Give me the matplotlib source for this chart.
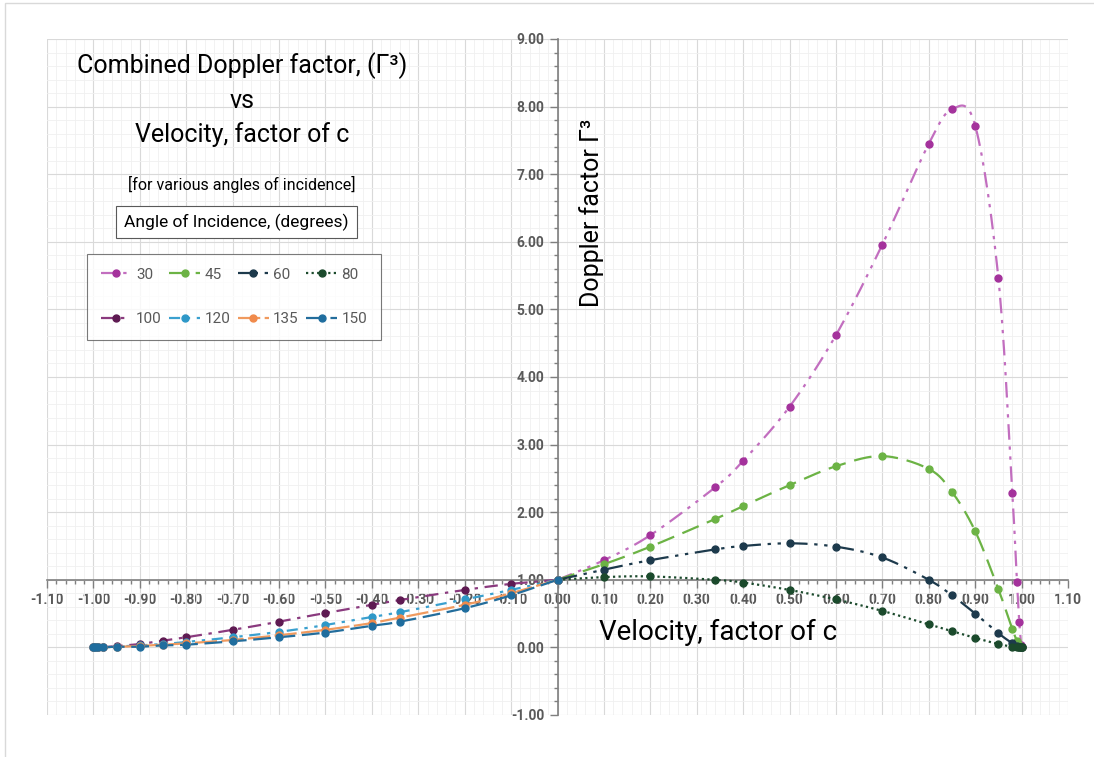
import numpy as np
import matplotlib
matplotlib.use("Agg")
import matplotlib.pyplot as plt
from matplotlib.patches import Rectangle
from matplotlib.ticker import MultipleLocator, FormatStrFormatter

plt.rcParams['font.family'] = ['Roboto', 'DejaVu Sans']

# velocity points (factor of c); approaching angles plotted at +v, receding at -v
vel = [0, 0.1, 0.2, 0.34, 0.4, 0.5, 0.6, 0.7, 0.8, 0.85, 0.9, 0.95, 0.98, 0.99, 0.995, 0.999, 1.0]
vel_neg = [-v for v in vel]

g30 = [1.00, 1.29, 1.66, 2.37, 2.76, 3.56, 4.62, 5.96, 7.45, 7.96, 7.72, 5.46, 2.28, 0.97, 0.38, 0.04, 0.00]
g45 = [1.00, 1.23, 1.49, 1.90, 2.09, 2.40, 2.68, 2.83, 2.64, 2.30, 1.72, 0.86, 0.27, 0.10, 0.04, 0.00, 0.00]
g60 = [1.00, 1.15, 1.29, 1.45, 1.50, 1.54, 1.49, 1.33, 1.00, 0.77, 0.50, 0.21, 0.06, 0.02, 0.01, 0.00, 0.00]
g80 = [1.00, 1.04, 1.05, 1.00, 0.96, 0.85, 0.71, 0.54, 0.34, 0.24, 0.14, 0.05, 0.01, 0.00, 0.00, 0.00, 0.00]
g100 = [1.00, 0.94, 0.85, 0.70, 0.63, 0.51, 0.38, 0.26, 0.15, 0.10, 0.05, 0.02, 0.00, 0.00, 0.00, 0.00, 0.00]
g120 = [1.00, 0.85, 0.71, 0.52, 0.45, 0.33, 0.23, 0.15, 0.08, 0.05, 0.03, 0.01, 0.00, 0.00, 0.00, 0.00, 0.00]
g135 = [1.00, 0.80, 0.63, 0.44, 0.36, 0.26, 0.18, 0.11, 0.06, 0.04, 0.02, 0.01, 0.00, 0.00, 0.00, 0.00, 0.00]
g150 = [1.00, 0.77, 0.58, 0.38, 0.32, 0.22, 0.15, 0.09, 0.04, 0.03, 0.01, 0.01, 0.00, 0.00, 0.00, 0.00, 0.00]

W, H = 1094, 757
fig = plt.figure(figsize=(W / 100, H / 100), dpi=100)
ax = fig.add_axes([47 / W, 1 - 715 / H, (1068 - 47) / W, (715 - 39) / H])

# chart area border
fig.patches.append(Rectangle((5 / W, -0.1), 1.2, 1.1 - 3 / H, transform=fig.transFigure,
                             fill=False, edgecolor='#d9d9d9', lw=1))


def smooth(x, y, n=16):
    # excel-like smoothed line (bezier through the points)
    p = np.column_stack([x, y]).astype(float)
    pp = np.vstack([p[0], p, p[-1]])
    out = []
    for i in range(len(p) - 1):
        p0, p1, p2, p3 = pp[i], pp[i + 1], pp[i + 2], pp[i + 3]
        c1 = p1 + (p2 - p0) / 6
        c2 = p2 - (p3 - p1) / 6
        t = np.linspace(0, 1, n)[:, None]
        seg = (1 - t) ** 3 * p1 + 3 * (1 - t) ** 2 * t * c1 + 3 * (1 - t) * t ** 2 * c2 + t ** 3 * p2
        out.append(seg if i == 0 else seg[1:])
    s = np.vstack(out)
    return s[:, 0], s[:, 1]


series = [
    ('30', vel, g30, '#c26ebf', '#a4329c', (0, (7, 3, 1.5, 3, 1.5, 3))),
    ('45', vel, g45, '#6cb345', '#6cb345', (0, (8, 4))),
    ('60', vel, g60, '#1d3a4c', '#1d3a4c', (0, (9, 3, 1.5, 3, 1.5, 3))),
    ('80', vel, g80, '#1b4a2c', '#1b4a2c', (0, (1, 1.5))),
    ('100', vel_neg, g100, '#8a3a7e', '#5e1a52', (0, (6, 3, 1.5, 3))),
    ('120', vel_neg, g120, '#3aa0cf', '#2e98c8', (0, (5, 3, 1.5, 3, 1.5, 3))),
    ('135', vel_neg, g135, '#f09a5e', '#f08a4b', (0, (10, 2))),
    ('150', vel_neg, g150, '#236d9c', '#1f6d9e', (0, (8, 3))),
]

handles = []
for name, xs, ys, lc, mc, ls in series:
    sx, sy = smooth(xs, ys)
    ax.plot(sx, sy, color=lc, lw=1.6, ls=ls, zorder=3)
    ax.plot(xs, ys, ls='none', marker='o', ms=5, color=mc, zorder=4)
    h, = ax.plot([], [], color=lc, lw=1.6, ls=ls, marker='o', ms=5, mfc=mc, mec=mc, label=name)
    handles.append(h)

ax.set_xlim(-1.1, 1.1)
ax.set_ylim(-1, 9)
ax.xaxis.set_major_locator(MultipleLocator(0.1))
ax.xaxis.set_minor_locator(MultipleLocator(0.02))
ax.yaxis.set_major_locator(MultipleLocator(1))
ax.yaxis.set_minor_locator(MultipleLocator(0.2))
ax.xaxis.set_major_formatter(FormatStrFormatter('%.2f'))
ax.yaxis.set_major_formatter(FormatStrFormatter('%.2f'))

ax.grid(which='major', color='#d9d9d9', lw=0.8)
ax.grid(which='minor', color='#f0f0f0', lw=0.6)
ax.set_axisbelow(True)

ax.spines['left'].set_position(('data', 0))
ax.spines['bottom'].set_position(('data', 1))
ax.spines['right'].set_visible(False)
ax.spines['top'].set_visible(False)
for sp in ('left', 'bottom'):
    ax.spines[sp].set_color('#7f7f7f')
    ax.spines[sp].set_linewidth(1.2)
    ax.spines[sp].set_zorder(2)

ax.tick_params(which='major', length=6, width=1, color='#7f7f7f', direction='out',
               labelsize=10, labelcolor='#595959')
ax.tick_params(which='minor', length=3, width=1, color='#7f7f7f', direction='out')
for lab in ax.get_xticklabels() + ax.get_yticklabels():
    lab.set_fontweight('bold')

# titles and labels
cx = 242 / W
fig.text(cx, 1 - 66 / H, 'Combined Doppler factor, (Γ³)', ha='center', va='center', fontsize=18)
fig.text(cx, 1 - 101 / H, 'vs', ha='center', va='center', fontsize=18)
fig.text(cx, 1 - 135 / H, 'Velocity, factor of c', ha='center', va='center', fontsize=18)
fig.text(cx, 1 - 184 / H, '[for various angles of incidence]', ha='center', va='center', fontsize=11.5)
fig.text(236.5 / W, 1 - 222 / H, 'Angle of Incidence, (degrees)', ha='center', va='center', fontsize=12.5,
         bbox=dict(boxstyle='square,pad=0.45', fc='white', ec='#595959', lw=0.8))

fig.text(592 / W, 1 - 213 / H, 'Doppler factor Γ³', rotation=90, ha='center', va='center', fontsize=18)
fig.text(718 / W, 1 - 632 / H, 'Velocity, factor of c', ha='center', va='center', fontsize=20)

# legend fills by column, so order the handles to read row-wise
order = [0, 4, 1, 5, 2, 6, 3, 7]
leg = fig.legend(handles=[handles[i] for i in order], ncol=4, loc='center',
                 bbox_to_anchor=(234 / W, 1 - 297 / H),
                 frameon=True, fancybox=False, fontsize=11, labelspacing=2.0,
                 handlelength=2.0, handletextpad=0.3, columnspacing=0.5, borderpad=0.9,
                 borderaxespad=0)
leg.get_frame().set_edgecolor('#595959')
leg.get_frame().set_linewidth(0.8)
for t in leg.get_texts():
    t.set_color('#595959')

fig.savefig('out.png', dpi=100)
